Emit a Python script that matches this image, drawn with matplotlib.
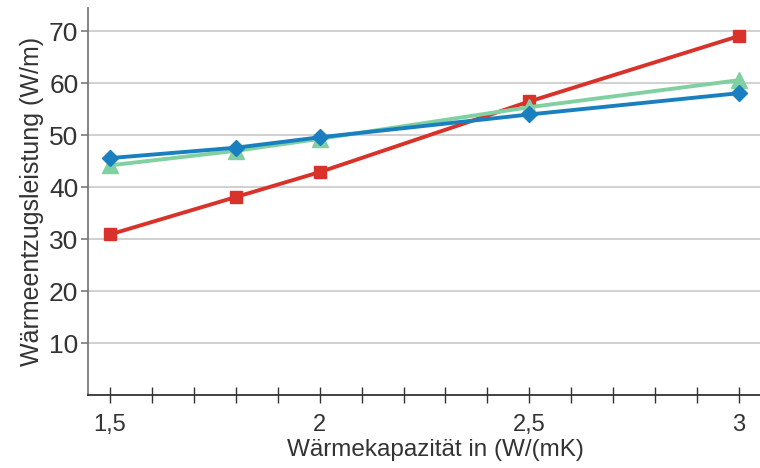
import matplotlib.pyplot as plt
from matplotlib.ticker import MultipleLocator

# Wärmekapazität in W/(mK)
x = [1.5, 1.8, 2.0, 2.5, 3.0]

# Wärmeentzugsleistung in W/m
red = [30.9, 38.1, 42.9, 56.5, 69.1]
green = [44.2, 47.0, 49.3, 55.4, 60.6]
blue = [45.6, 47.6, 49.6, 54.0, 58.1]

xticks = [1.5, 2.0, 2.5, 3.0]
xtick_labels = ["1,5", "2", "2,5", "3"]
yticks = [10, 20, 30, 40, 50, 60, 70]

plt.rcParams["font.family"] = ["Liberation Sans", "DejaVu Sans"]

fig = plt.figure(figsize=(7.6, 4.68), dpi=100)
ax = fig.add_axes([0.116, 0.156, 0.884, 0.827])

ax.plot(x, red, color="#d8322a", lw=2.8, marker="s", ms=8, zorder=3)
ax.plot(x, green, color="#80d0a2", lw=2.8, marker="^", ms=11, zorder=4)
ax.plot(x, blue, color="#1a7fbe", lw=2.8, marker="D", ms=8, zorder=5)

ax.set_xlim(1.448, 3.05)
ax.set_ylim(0, 74.5)

ax.set_xticks(xticks)
ax.set_xticklabels(xtick_labels)
ax.xaxis.set_minor_locator(MultipleLocator(0.1))
ax.set_yticks(yticks)

ax.grid(axis="y", color="#c8c8c8", lw=1.2, zorder=0)
ax.set_axisbelow(True)

for side in ["top", "right"]:
    ax.spines[side].set_visible(False)
ax.spines["left"].set_color("#7a7a7a")
ax.spines["left"].set_linewidth(1.3)
ax.spines["bottom"].set_color("#333333")
ax.spines["bottom"].set_linewidth(1.3)

ax.tick_params(axis="y", direction="out", length=5, width=1.2, color="#7a7a7a",
               labelsize=19, labelcolor="#333333", pad=2)
ax.tick_params(axis="x", which="both", direction="inout", length=12, width=1.0,
               color="#333333", labelsize=17, labelcolor="#333333", pad=8)

ax.set_xlabel("Wärmekapazität in (W/(mK)", fontsize=17.5, color="#333333")
ax.xaxis.set_label_coords(0.5 + 11 / 672, -0.114)
ax.set_ylabel("Wärmeentzugsleistung (W/m)", fontsize=18, color="#333333", labelpad=4)

fig.savefig("out.png", dpi=100)
